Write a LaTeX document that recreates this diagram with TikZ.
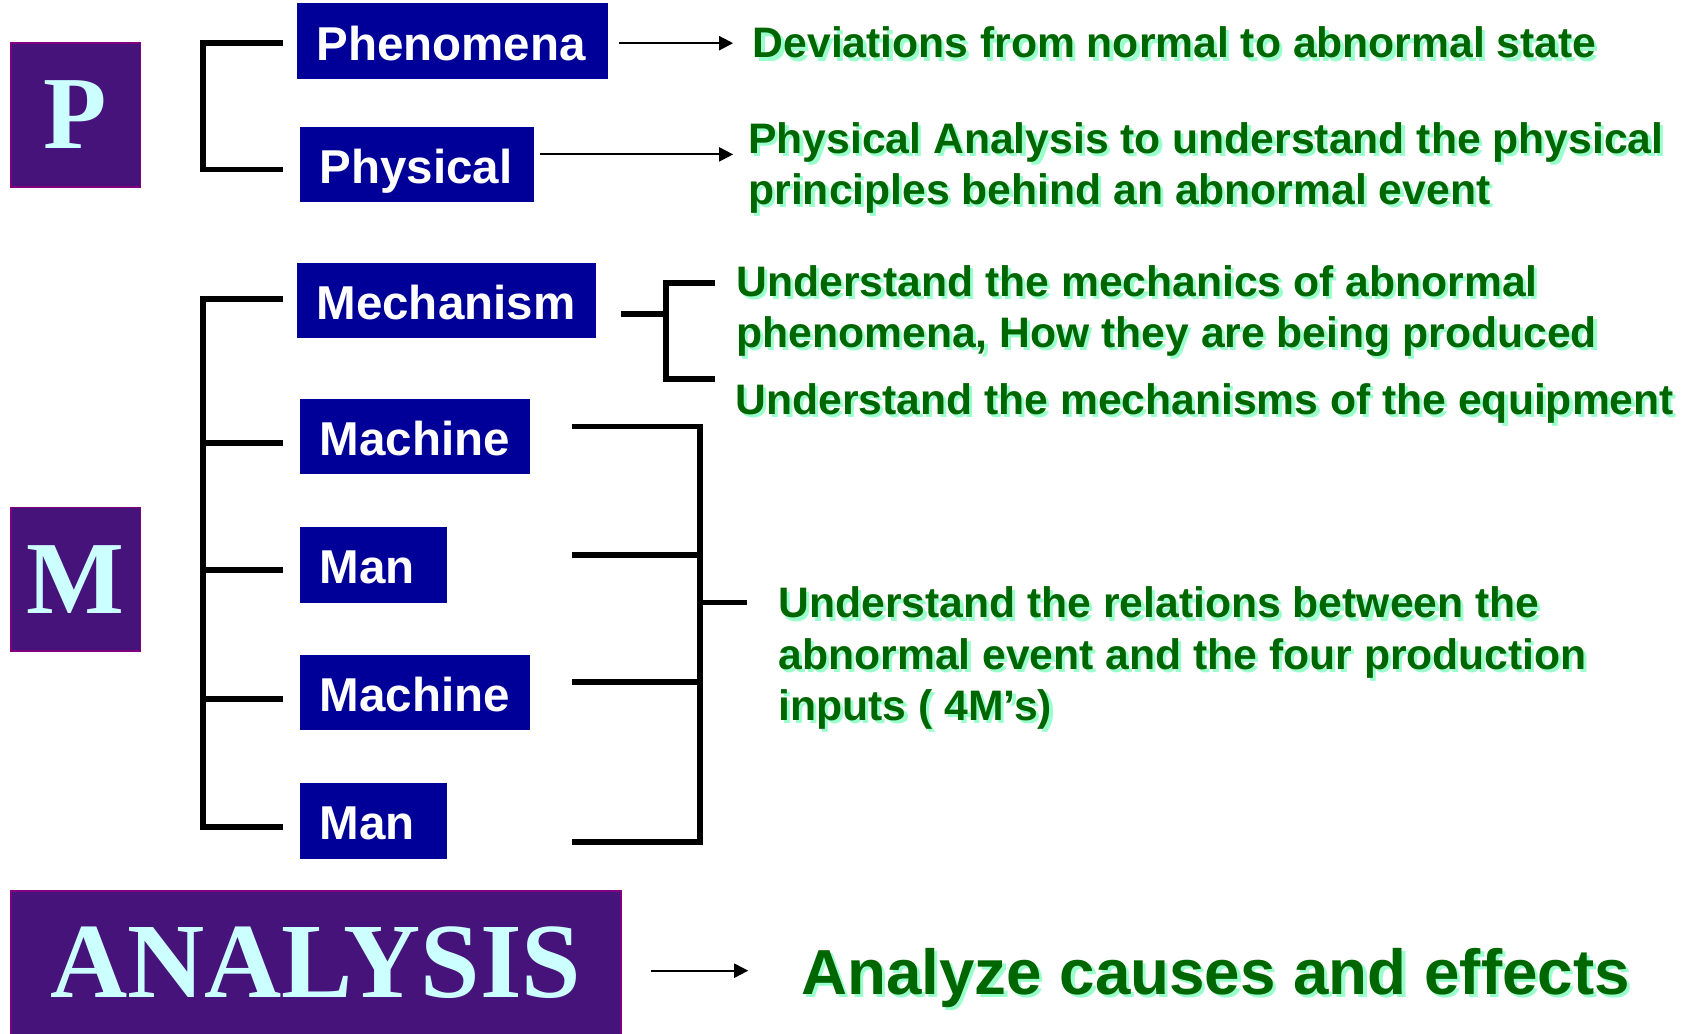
\documentclass[tikz,border=0pt]{standalone}
\usepackage{fontspec}
\setmainfont{Liberation Serif}
\setsansfont{Liberation Sans}
\usetikzlibrary{arrows.meta,calc}
\definecolor{boxblue}{HTML}{000099}
\definecolor{purpfill}{HTML}{46137A}
\definecolor{purpedge}{HTML}{800080}
\definecolor{lettercyan}{HTML}{CCFFFF}
\definecolor{dkgreen}{HTML}{006600}
\definecolor{gshadow}{HTML}{99FFCC}
\newcommand\gsh[1]{\makebox[0pt][l]{\raisebox{-3pt}{\hspace*{3pt}\textcolor{gshadow}{#1}}}#1}
\begin{document}
\begin{tikzpicture}[x=1pt,y=-1pt,
  pbox/.style={fill=purpfill, draw=purpedge, line width=1.5pt, text=lettercyan,
    font=\rmfamily\bfseries\fontsize{96}{96}\selectfont, inner sep=0pt},
  bbox/.style={fill=boxblue, text=white, anchor=north west, minimum height=70pt,
    inner xsep=18pt, inner ysep=0pt, align=left, text height=35pt, text depth=0pt,
    font=\sffamily\bfseries\fontsize{44}{48}\selectfont},
  gtext/.style={anchor=west, inner sep=0pt, align=left, text=dkgreen,
    font=\sffamily\bfseries\fontsize{39.5}{47.5}\selectfont},
  brk/.style={line width=5.5pt, line join=miter, line cap=butt},
  arr/.style={line width=2pt, -{Triangle[length=13pt,width=13pt]}}
]
\fill[white] (0,0) rectangle (1568,957);
\useasboundingbox (0,0) rectangle (1568,957);

% purple letter boxes
\node[pbox, minimum width=120pt, minimum height=133pt] (P) at (70,106.5) {P};
\node[pbox, minimum width=120pt, minimum height=133pt] (M) at (70,536.5) {M};
\node[pbox, minimum width=565pt, minimum height=134pt, font=\rmfamily\bfseries\fontsize{99}{99}\selectfont] (ANA) at (292.5,892) {\raisebox{-3pt}{ANALYSIS}};

% blue boxes
\node[bbox, text width=252pt] (phen) at (275,3) {Phenomena};
\node[bbox, text width=180pt] (phys) at (278,117) {Physical};
\node[bbox, text width=241pt] (mech) at (275,243) {Mechanism};
\node[bbox, text width=177pt] (mach1) at (278,369) {Machine};
\node[bbox, text width=100pt] (man1) at (278,488) {Man};
\node[bbox, text width=177pt] (mach2) at (278,606) {Machine};
\node[bbox, text width=100pt] (man2) at (278,725) {Man};

% green texts
\node[gtext] (dev) at (697,41) {\gsh{Deviations from normal to abnormal state}};
\node[gtext] (physan) at (693,157) {\gsh{Physical Analysis to understand the physical}\\\gsh{principles behind an abnormal event}};
\node[gtext] (mechan) at (682,289.5) {\gsh{Understand the mechanics of abnormal}\\\gsh{phenomena, How they are being produced}};
\node[gtext] (equip) at (681,375) {\gsh{Understand the mechanisms of the equipment}};
\node[gtext] (rel) at (721,611) {\gsh{Understand the relations between the}\\\gsh{abnormal event and the four production}\\\gsh{inputs ( 4M’s)}};
\node[gtext, font=\sffamily\bfseries\fontsize{59}{66}\selectfont] (cause) at (742,907) {\gsh{Analyze causes and effects}};

% P bracket
\coordinate (pa1) at (262,40);
\coordinate (pa2) at (262,157);
\draw[brk] (pa1) -- (188,40) -- (188,157) -- (pa2);

% M bracket
\coordinate (ma1) at (262,277);
\coordinate (ma2) at (262,410);
\coordinate (ma3) at (262,528);
\coordinate (ma4) at (262,647);
\coordinate (ma5) at (262,766);
\draw[brk] (ma1) -- (188,277) -- (188,766) -- (ma5);
\draw[brk] (188,410) -- (ma2);
\draw[brk] (188,528) -- (ma3);
\draw[brk] (188,647) -- (ma4);

% mechanism bracket
\coordinate (mb0) at (575,291);
\coordinate (mb1) at (662,262);
\coordinate (mb2) at (662,351);
\draw[brk] (mb0) -- (617,291);
\draw[brk] (mb1) -- (617,262) -- (617,351) -- (mb2);

% right bracket for 4M
\coordinate (rb1) at (530,395);
\coordinate (rb2) at (530,514);
\coordinate (rb3) at (530,632);
\coordinate (rb4) at (530,780);
\coordinate (rbs) at (692,558);
\draw[brk] (rb1) -- (648,395) -- (648,780) -- (rb4);
\draw[brk] (rb2) -- (648,514);
\draw[brk] (rb3) -- (648,632);
\draw[brk] (648,558) -- (rbs);

% arrows
\coordinate (a1s) at (573,40);
\coordinate (a1e) at (679,40);
\draw[arr] (a1s) -- (a1e);
\coordinate (a2s) at (500,143);
\coordinate (a2e) at (679,143);
\draw[arr] (a2s) -- (a2e);
\coordinate (a3s) at (603,899);
\coordinate (a3e) at (693,899);
\draw[arr] (a3s) -- (a3e);
\end{tikzpicture}
\end{document}
